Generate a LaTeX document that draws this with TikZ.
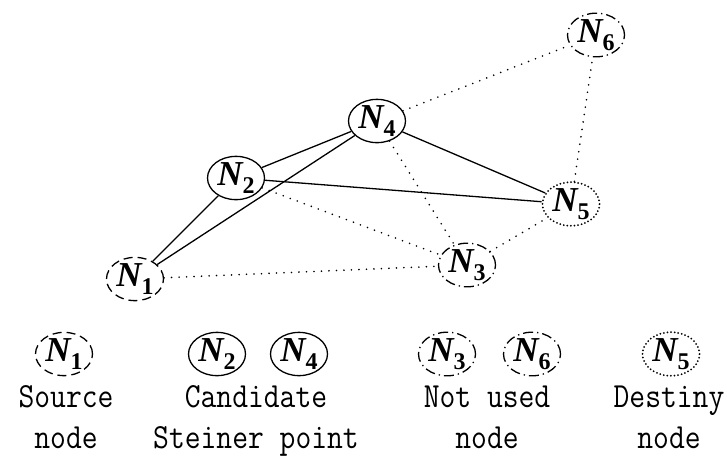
\documentclass[tikz,border=0pt]{standalone}
\usepackage{fontspec}
\setmainfont{Liberation Serif}
\usetikzlibrary{shapes.geometric}

% node label: bold italic N with an upright bold index
\newcommand{\nlab}[1]{{\bfseries\itshape N}\raisebox{-0.22em}{\fontsize{24}{24}\selectfont\bfseries #1}}
% caption line in a tall monospaced face
\newcommand{\capline}[1]{\scalebox{1}[1.15]{#1}}

\begin{document}
\begin{tikzpicture}[x=1pt,y=-1pt,
  nd/.style={ellipse, minimum width=57pt, minimum height=42pt, inner sep=0pt,
             line width=1.3pt, font=\fontsize{35}{35}\selectfont},
  srcnode/.style={nd, draw, dash pattern=on 9pt off 5pt},
  candnode/.style={nd, draw},
  unusednode/.style={nd, draw, dash pattern=on 10pt off 4pt on 1.3pt off 4pt},
  destnode/.style={nd, draw, line width=2pt, line cap=round, dash pattern=on 0pt off 3.6pt},
  used/.style={line width=1.3pt},
  spare/.style={line width=1.8pt, line cap=round, dash pattern=on 0pt off 7.5pt},
  capt/.style={anchor=base, inner sep=0pt, font=\fontsize{30.7}{30.7}\selectfont\ttfamily}]
\useasboundingbox (0,0) rectangle (727,459);

% network
\node[srcnode]    (n1) at (135,279) {\nlab{1}};
\node[candnode]   (n2) at (236,178) {\nlab{2}};
\node[candnode]   (n4) at (377,121) {\nlab{4}};
\node[destnode]   (n5) at (571,204) {\nlab{5}};
\node[unusednode] (n3) at (467,265) {\nlab{3}};
\node[unusednode] (n6) at (596,35)  {\nlab{6}};

\draw[used] (n1) -- (n2);
\draw[used] (n1) -- (n4);
\draw[used] (n2) -- (n4);
\draw[used] (n2) -- (n5);
\draw[used] (n4) -- (n5);

\draw[spare] (n1) -- (n3);
\draw[spare] (n2) -- (n3);
\draw[spare] (n4) -- (n3);
\draw[spare] (n3) -- (n5);
\draw[spare] (n5) -- (n6);
\draw[spare] (n4) -- (n6);

% legend
\node[srcnode]    (l1) at (64,354)  {\nlab{1}};
\node[candnode]   (l2) at (217,354) {\nlab{2}};
\node[candnode]   (l4) at (299,354) {\nlab{4}};
\node[unusednode] (l3) at (447,354) {\nlab{3}};
\node[unusednode] (l6) at (532,354) {\nlab{6}};
\node[destnode]   (l5) at (671,354) {\nlab{5}};

\node[capt] (c1a) at (66,407)  {\capline{Source}};
\node[capt] (c1b) at (66,448)  {\capline{node}};
\node[capt] (c2a) at (256,407) {\capline{Candidate}};
\node[capt] (c2b) at (256,448) {\capline{Steiner point}};
\node[capt] (c3a) at (487,407) {\capline{Not used}};
\node[capt] (c3b) at (487,448) {\capline{node}};
\node[capt] (c4a) at (669,407) {\capline{Destiny}};
\node[capt] (c4b) at (669,448) {\capline{node}};
\end{tikzpicture}
\end{document}
